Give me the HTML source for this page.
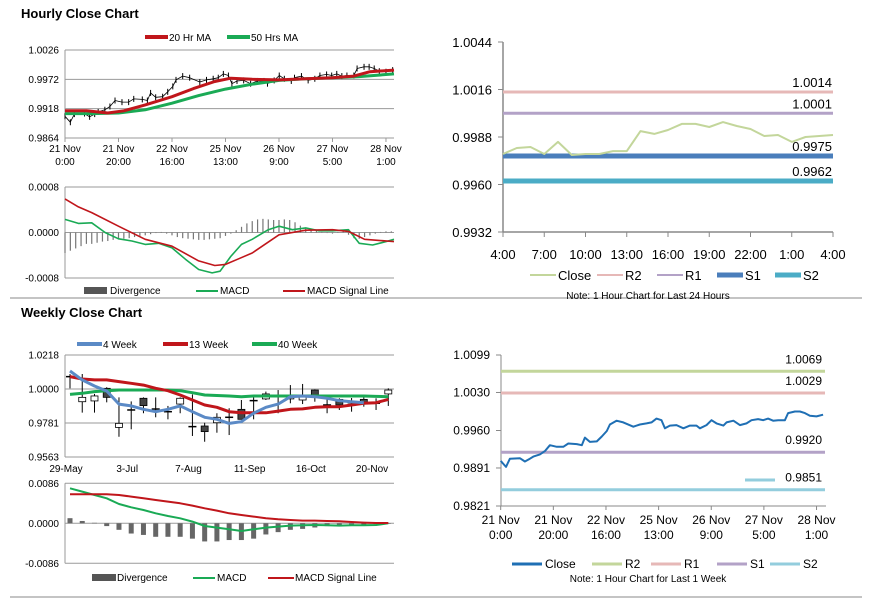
<!DOCTYPE html>
<html><head><meta charset="utf-8"><style>
body{margin:0;background:#fff;}
svg{display:block;font-family:"Liberation Sans",Arial,sans-serif;}
.t{font-size:10px;fill:#000}
.n{font-family:"Liberation Sans Narrow","Liberation Sans",sans-serif;font-size:13px;fill:#000}
</style></head><body>
<svg id="c" width="873" height="601" viewBox="0 0 873 601" xmlns="http://www.w3.org/2000/svg">
<text x="21" y="18" font-size="13" font-weight="bold">Hourly Close Chart</text>
<text x="21" y="317" font-size="13" font-weight="bold">Weekly Close Chart</text>
<line x1="10" y1="298" x2="862" y2="298" stroke="#888"/>
<line x1="10" y1="597" x2="862" y2="597" stroke="#888"/>
</svg>
<script>
// ---- Hourly data (hours since 21 Nov 0:00) ----
const closeHours=[0,2,3.5,7.3,9.2,11.1,12.4,14.9,16.8,18.7,21.3,23.8,25.7,28.9,30.8,32,33.9,36.5,38.4,40.3,41.5,44,46.6,50.4,52.9,55.4,57.3,59.2,61.1,62.4,64.3,66.8,69.4,71.9,74.4,75.7,78.2,80.1,82,84.6,85.8,88.4,90.9,93.4,95.3,97.8,99.7,101.6,103.5,105.4,108,109.2,111.8,113.7,115.6,117.5,120,122.5];
const closeValues=[0.9904,0.9893,0.9908,0.9909,0.9903,0.9908,0.9912,0.9916,0.9922,0.9933,0.9930,0.9930,0.9936,0.9935,0.9933,0.9947,0.9939,0.9940,0.9949,0.9959,0.9971,0.9978,0.9975,0.9967,0.9971,0.9973,0.9975,0.9982,0.9979,0.9964,0.9969,0.9970,0.9964,0.9969,0.9969,0.9964,0.9970,0.9979,0.9973,0.9969,0.9975,0.9978,0.9970,0.9973,0.9979,0.9981,0.9979,0.9982,0.9978,0.9979,0.9979,0.9992,0.9995,0.9995,0.9992,0.9987,0.9986,0.9989];
const ma20Hours=[0,8,16,22,30,40,48,56,62,70,80,90,100,108,114,123];
const ma20Values=[0.9914,0.9914,0.9910,0.9914,0.9925,0.9940,0.9955,0.9968,0.9974,0.9972,0.9971,0.9973,0.9975,0.9978,0.9986,0.9989];
const ma50Hours=[0,10,20,30,40,50,60,70,80,90,100,110,123];
const ma50Values=[0.9909,0.9909,0.9910,0.9916,0.9928,0.9942,0.9954,0.9963,0.9970,0.9973,0.9975,0.9977,0.9982];
const hourTickHours=[0,20,40,60,80,100,120];
const hourTickLabels=[["21 Nov","0:00"],["21 Nov","20:00"],["22 Nov","16:00"],["25 Nov","13:00"],["26 Nov","9:00"],["27 Nov","5:00"],["28 Nov","1:00"]];
const hPriceTicks=[1.0026,0.9972,0.9918,0.9864];
const hMacdTicks=[0.0008,0,-0.0008];
const hSignalHours=[0,5,10,20,30,40,50,56,60,65,70,80,90,100,106,112,123];
const hSignalValues=[0.00059,0.00045,0.00035,0.00011,-0.00012,-0.00024,-0.00050,-0.00058,-0.00056,-0.00046,-0.00036,-0.00004,0.00004,0.00005,0.00002,-0.00012,-0.00016];
const hMacdHours=[0,5,10,15,20,25,30,35,40,45,50,55,58,62,66,70,76,80,85,90,95,100,106,110,115,120,123];
const hMacdValues=[0.00023,0.00016,0.00017,0,-0.00011,-0.00015,-0.00021,-0.00019,-0.00027,-0.00047,-0.00065,-0.00071,-0.00068,-0.00042,-0.00021,-0.00012,0.00005,0.00011,0.00005,0.00008,0.00003,0.00003,0.00005,-0.00019,-0.00022,-0.00016,-0.00012];
const hDivValues=[-0.00036,-0.00032,-0.00028,-0.00024,-0.0002,-0.0002,-0.00018,-0.00016,-0.00015,-0.00013,-0.00012,-0.00011,-0.0001,-0.00008,-0.00006,-0.00005,-0.00003,-0.00001,0.00001,-0.00002,-0.00005,-0.00008,-0.0001,-0.00011,-0.00012,-0.00013,-0.00013,-0.00012,-0.00011,-0.0001,-0.00006,-0.00002,0.00004,0.0001,0.00016,0.0002,0.00023,0.00024,0.00023,0.00022,0.00022,0.00023,0.00022,0.00018,0.00012,0.00008,0.00005,0.00003,0.00001,-0.00001,-0.00002,0.00001,0.00002,-0.00004,-0.0001,-0.00011,-0.00008,-0.00005,-0.00002,0.00001,0.00002,0.00002];
// ---- 24h chart ----
const dayTickLabels=["4:00","7:00","10:00","13:00","16:00","19:00","22:00","1:00","4:00"];
const dayTicks=[1.0044,1.0016,0.9988,0.9960,0.9932];
const dayClose=[0.99780,0.99815,0.99821,0.99780,0.99851,0.99774,0.99780,0.99780,0.99797,0.99797,0.99915,0.99898,0.99921,0.99957,0.99957,0.99939,0.99968,0.99945,0.99927,0.99886,0.99892,0.99851,0.9988,0.99886,0.99892];
const dayLevels=[1.00145,1.0002,0.99768,0.99621];
const dayLevelLabels=["1.0014","1.0001","0.9975","0.9962"];
// ---- week chart levels ----
const wkTicks=[1.0099,1.0030,0.9960,0.9891,0.9821];
const wkLevels=[1.0069,1.0029,0.9920,0.9851];
const wkLevelLabels=["1.0069","1.0029","0.9920","0.9851"];
// ---- Weekly data ----
const weekLabels=["29-May","3-Jul","7-Aug","11-Sep","16-Oct","20-Nov"];
const weekLabelIdx=[0,5,10,15,20,25];
const wOpen=[1.0079,0.9918,0.9923,1.0004,0.9753,0.9865,0.9940,0.9871,0.9854,0.9903,0.9758,0.9762,0.9783,0.9818,0.9869,0.9925,0.9936,0.9950,0.9936,0.9929,0.9993,0.9897,0.9933,0.9912,0.9933,0.9908,0.9968];
const wClose=[1.0079,0.9946,0.9955,0.9946,0.9779,0.9865,0.9893,0.9871,0.9854,0.9940,0.9758,0.9726,0.9818,0.9818,0.9805,0.9925,0.9968,0.9950,0.9961,0.9950,0.9961,0.9897,0.9897,0.9912,0.9910,0.9908,0.9993];
const wHigh=[1.0096,1.0096,0.9968,1.0011,0.9946,0.9920,0.9946,0.9946,0.9891,0.9946,0.9965,0.9783,0.9844,0.9876,0.9929,0.9946,0.9983,0.9993,1.0025,1.0032,0.9997,0.9940,0.9940,0.9942,0.9950,0.9940,1.0004];
const wLow=[1.0004,0.9848,0.9848,0.9914,0.9693,0.9741,0.9844,0.9818,0.9805,0.9844,0.9698,0.9661,0.9719,0.9704,0.9805,0.9805,0.9929,0.9844,0.9908,0.9903,0.9918,0.9844,0.9865,0.9854,0.9886,0.9865,0.9891];
const w4Values=[1.0115,1.0058,1.0019,0.9987,0.9903,0.9891,0.9869,0.9854,0.9869,0.9891,0.9854,0.9818,0.9805,0.9779,0.9790,0.9844,0.9882,0.9903,0.9950,0.9955,0.9950,0.9940,0.9925,0.9918,0.9912];
const w13Values=[1.0079,1.0064,1.0058,1.0058,1.0047,1.0036,1.0025,1.0004,0.9989,0.9961,0.9929,0.9897,0.9882,0.9854,0.9847,0.9847,0.9847,0.9858,0.9869,0.9872,0.9882,0.9886,0.9886,0.9897,0.9908,0.9912,0.9933];
const w40Values=[0.9965,0.9972,0.9983,0.9989,0.9993,0.9993,0.9993,0.9993,0.9993,0.9989,0.9976,0.9961,0.9958,0.9955,0.9950,0.9955,0.9955,0.9955,0.9955,0.9955,0.9955,0.9955,0.9955,0.9955,0.9955,0.9952,0.9950];
const wPriceTicks=[1.0218,1.0000,0.9781,0.9563];
const wMacdTicks=[0.0086,0,-0.0086];
const wSignal=[0.00624,0.00624,0.00624,0.00624,0.00609,0.00573,0.00538,0.00502,0.00466,0.0043,0.0038,0.00323,0.00272,0.00215,0.00179,0.00143,0.00108,0.00086,0.00072,0.00057,0.00057,0.0005,0.00043,0.00029,0.00014,0.00007,0.00007];
const wMacd=[0.00753,0.00681,0.00609,0.00538,0.00416,0.00344,0.00287,0.00215,0.00158,0.00108,0.00036,-0.00057,-0.00093,-0.00129,-0.00165,-0.00129,-0.00093,-0.00072,-0.0005,-0.00043,-0.00036,-0.00043,-0.0005,-0.00043,-0.00043,-0.00036,0];
const wDiv=[0.0011,0.0005,0.0001,-0.0006,-0.0014,-0.0022,-0.0025,-0.0029,-0.0029,-0.0029,-0.0033,-0.0039,-0.0039,-0.0036,-0.0036,-0.0033,-0.0024,-0.0019,-0.0014,-0.0012,-0.0009,-0.0006,-0.0006,-0.0005,-0.0004,-0.0002,0];

const svg=document.getElementById('c');
const NS='http://www.w3.org/2000/svg';
function mk(tag,a,name,parent){const e=document.createElementNS(NS,tag);for(const k in a)e.setAttribute(k,a[k]);


(parent||svg).appendChild(e);return e;}
function txt(x,y,s,name,o){const e=mk('text',Object.assign({x:x,y:y},o||{}),name);e.textContent=s;return e;}
function lin(d0,d1,r0,r1){return v=>r0+(v-d0)/(d1-d0)*(r1-r0);}
function poly(xs,ys,fx,fy,color,w,name){const p=xs.map((x,i)=>fx(x).toFixed(1)+','+fy(ys[i]).toFixed(1)).join(' ');
return mk('polyline',{points:p,fill:'none',stroke:color,'stroke-width':w,'stroke-linejoin':'round'},name);}
function yaxis(ticks,fy,x0,x1,name,fmt,cls){ticks.forEach(t=>{mk('line',{x1:x0,x2:x1,y1:fy(t),y2:fy(t),stroke:'#9a9a9a'},name+'-gridline');
txt(x0-6,fy(t)+3.5,fmt(t),name+'-tick-label',{class:cls||'t','text-anchor':'end'});});
mk('line',{x1:x0,x2:x0,y1:fy(ticks[0]),y2:fy(ticks[ticks.length-1]),stroke:'#9a9a9a'},name+'-axis');}

// ===== Panel A hourly price =====
const ax=lin(0,123,65,394), ay=lin(0.9864,1.0026,138,50);
yaxis(hPriceTicks,ay,65,394,'hourly-price-y',v=>v.toFixed(4));
hourTickHours.forEach((h,i)=>{mk('line',{x1:ax(h),x2:ax(h),y1:138,y2:142,stroke:'#9a9a9a'},'hourly-x-tick');
txt(ax(h),152,hourTickLabels[i][0],'hourly-x-label',{class:'t','text-anchor':'middle'});txt(ax(h),165,hourTickLabels[i][1],'hourly-x-label',{class:'t','text-anchor':'middle'});});
closeHours.forEach((h,i)=>{mk('line',{x1:ax(h),x2:ax(h),y1:ay(closeValues[i])-3,y2:ay(closeValues[i])+3,stroke:'#000','stroke-width':1},'hourly-candle');});
poly(closeHours,closeValues,ax,ay,'#000',0.8,'hourly-close-line');
poly(ma50Hours,ma50Values,ax,ay,'#1aaa55',3,'ma50-line');
poly(ma20Hours,ma20Values,ax,ay,'#c0161b',3,'ma20-line');
mk('line',{x1:145,x2:168,y1:37,y2:37,stroke:'#c0161b','stroke-width':4},'legend-ma20-swatch');txt(169,41,'20 Hr MA','legend-ma20',{class:'t'});
mk('line',{x1:227,x2:250,y1:37,y2:37,stroke:'#1aaa55','stroke-width':4},'legend-ma50-swatch');txt(251,41,'50 Hrs MA','legend-ma50',{class:'t'});

// ===== Panel B hourly MACD =====
const by=lin(-0.0008,0.0008,278,187);
yaxis(hMacdTicks,by,65,394,'hourly-macd-y',v=>v.toFixed(4));
hDivValues.forEach((v,i)=>{const x=ax(i*2);mk('rect',{x:x-0.6,y:Math.min(by(v),by(0)),width:1.2,height:Math.abs(by(v)-by(0)),fill:'#777'},'hourly-divergence-bar');});
poly(hMacdHours,hMacdValues,ax,by,'#1aaa55',1.6,'hourly-macd-line');
poly(hSignalHours,hSignalValues,ax,by,'#c0161b',1.6,'hourly-signal-line');
mk('rect',{x:84,y:287,width:23,height:7,fill:'#555'},'legend-divergence-swatch');txt(110,294,'Divergence','legend-divergence',{class:'t'});
mk('line',{x1:196,x2:218,y1:291,y2:291,stroke:'#1aaa55','stroke-width':2},'legend-macd-swatch');txt(220,294,'MACD','legend-macd',{class:'t'});
mk('line',{x1:283,x2:305,y1:291,y2:291,stroke:'#c0161b','stroke-width':2},'legend-signal-swatch');txt(307,294,'MACD Signal Line','legend-signal',{class:'t'});

// ===== Panel C 24h =====
const cx=lin(0,24,503,833), cy=lin(0.9932,1.0044,232,42);
dayTicks.forEach(t=>{mk('line',{x1:498,x2:503,y1:cy(t),y2:cy(t),stroke:'#888'},'day-y-tick');txt(492,cy(t)+5,t.toFixed(4),'day-y-label',{class:'n','text-anchor':'end'});});
mk('line',{x1:503,x2:503,y1:42,y2:232,stroke:'#888','stroke-width':1.5},'day-y-axis');
mk('line',{x1:503,x2:833,y1:232,y2:232,stroke:'#888','stroke-width':1.5},'day-x-axis');
dayTickLabels.forEach((l,i)=>{const x=cx(i*3);mk('line',{x1:x,x2:x,y1:232,y2:237,stroke:'#888'},'day-x-tick');txt(x,259,l,'day-x-label',{class:'n','text-anchor':'middle'});});
const dayColors=['#e6b8b7','#b3a2c7','#4a7ebb','#4bacc6'], dayW=[3,3,5,5];
dayLevels.forEach((v,i)=>{mk('line',{x1:503,x2:833,y1:cy(v),y2:cy(v),stroke:dayColors[i],'stroke-width':dayW[i]},'day-level-'+['r2','r1','s1','s2'][i]);
txt(832,cy(v)-5,dayLevelLabels[i],'day-level-label',{class:'n','text-anchor':'end'});});
poly(dayClose.map((_,i)=>i),dayClose,cx,cy,'#c3d69b',2,'day-close-line');
const dl=[['Close','#c3d69b',2,530],['R2','#e6b8b7',2,597],['R1','#b3a2c7',2,657],['S1','#4a7ebb',5,717],['S2','#4bacc6',5,775]];
dl.forEach(d=>{mk('line',{x1:d[3],x2:d[3]+26,y1:275,y2:275,stroke:d[1],'stroke-width':d[2]},'day-legend-swatch');txt(d[3]+28,280,d[0],'day-legend-'+d[0].toLowerCase(),{class:'n'});});
txt(648,299,'Note: 1 Hour Chart for Last 24 Hours','day-note',{class:'t','text-anchor':'middle'});

// ===== Panel D week hourly =====
const dx=lin(0,123.6,500.7,826), dy=lin(0.9821,1.0099,506,355);
wkTicks.forEach(t=>{mk('line',{x1:496,x2:501,y1:dy(t),y2:dy(t),stroke:'#888'},'week-y-tick');txt(490,dy(t)+4,t.toFixed(4),'week-y-label',{class:'t','font-size':'12','text-anchor':'end',style:'font-size:12px'});});
mk('line',{x1:501,x2:501,y1:355,y2:506,stroke:'#888'},'week-y-axis');
mk('line',{x1:501,x2:826,y1:506,y2:506,stroke:'#888'},'week-x-axis');
hourTickHours.forEach((h,i)=>{const x=dx(h);mk('line',{x1:x,x2:x,y1:506,y2:510,stroke:'#888'},'week-x-tick');
txt(x,524,hourTickLabels[i][0],'week-x-label',{class:'t',style:'font-size:12px','text-anchor':'middle'});txt(x,539,hourTickLabels[i][1],'week-x-label',{class:'t',style:'font-size:12px','text-anchor':'middle'});});
const wkColors=['#c3d69b','#e6b8b7','#b3a2c7','#93cddd'];
wkLevels.forEach((v,i)=>{mk('line',{x1:501,x2:825,y1:dy(v),y2:dy(v),stroke:wkColors[i],'stroke-width':3},'week-level-'+['r2','r1','s1','s2'][i]);
txt(822,dy(v)-8,wkLevelLabels[i],'week-level-label',{class:'t',style:'font-size:12px','text-anchor':'end'});});
mk('line',{x1:745,x2:775,y1:480,y2:480,stroke:'#93cddd','stroke-width':3},'week-s2-label-marker');
poly(closeHours,closeValues,dx,dy,'#1f6fb4',2,'week-close-line');
const wl=[['Close','#1f6fb4',512],['R2','#c3d69b',592],['R1','#e6b8b7',651],['S1','#b3a2c7',717],['S2','#93cddd',770]];
wl.forEach(d=>{mk('line',{x1:d[2],x2:d[2]+30,y1:564,y2:564,stroke:d[1],'stroke-width':3},'week-legend-swatch');txt(d[2]+33,568,d[0],'week-legend-'+d[0].toLowerCase(),{class:'t',style:'font-size:12px'});});
txt(648,582,'Note: 1 Hour Chart for Last 1 Week','week-note',{class:'t','text-anchor':'middle'});

// ===== Panel E weekly price =====
const ex=lin(0,26,70,388.3), ey=lin(0.9563,1.0218,457,355);
yaxis(wPriceTicks,ey,65,394,'weekly-price-y',v=>v.toFixed(4));
weekLabelIdx.forEach((k,i)=>txt(ex(k)-4,472,weekLabels[i],'weekly-x-label',{class:'t','text-anchor':'middle'}));
wOpen.forEach((o,i)=>{const x=ex(i),c=wClose[i];
mk('line',{x1:x,x2:x,y1:ey(wHigh[i]),y2:ey(wLow[i]),stroke:'#000'},'weekly-candle-wick');
const t=ey(Math.max(o,c)),b=ey(Math.min(o,c));
if(b-t<1.2){mk('line',{x1:x-4,x2:x+4,y1:t,y2:t,stroke:'#000','stroke-width':1.5},'weekly-candle-doji');}
else mk('rect',{x:x-3.5,y:t,width:7,height:b-t,fill:c>o?'#fff':'#444',stroke:'#000','stroke-width':0.8},'weekly-candle-body');});
poly(w40Values.map((_,i)=>i),w40Values,ex,ey,'#1aaa55',3,'ma40-week-line');
poly(w13Values.map((_,i)=>i),w13Values,ex,ey,'#c0161b',3,'ma13-week-line');
poly(w4Values.map((_,i)=>i),w4Values,ex,ey,'#5b8ac6',3,'ma4-week-line');
[['4 Week','#5b8ac6',77],['13 Week','#c0161b',163],['40 Week','#1aaa55',252]].forEach(d=>{mk('line',{x1:d[2],x2:d[2]+25,y1:344,y2:344,stroke:d[1],'stroke-width':4},'weekly-legend-swatch');txt(d[2]+26,348,d[0],'weekly-legend-entry',{class:'t'});});

// ===== Panel F weekly MACD =====
const fy=lin(-0.0086,0.0086,563.3,483.3);
yaxis(wMacdTicks,fy,65,394,'weekly-macd-y',v=>v.toFixed(4));
wDiv.forEach((v,i)=>{const x=ex(i);mk('rect',{x:x-2.5,y:Math.min(fy(v),fy(0)),width:5,height:Math.max(0.5,Math.abs(fy(v)-fy(0))),fill:'#666'},'weekly-divergence-bar');});
poly(wMacd.map((_,i)=>i),wMacd,ex,fy,'#1aaa55',2,'weekly-macd-line');
poly(wSignal.map((_,i)=>i),wSignal,ex,fy,'#c0161b',2,'weekly-signal-line');
mk('rect',{x:92,y:574,width:24,height:7,fill:'#555'},'weekly-legend-divergence-swatch');txt(117,581,'Divergence','weekly-legend-divergence',{class:'t'});
mk('line',{x1:193,x2:215,y1:578,y2:578,stroke:'#1aaa55','stroke-width':2},'weekly-legend-macd-swatch');txt(217,581,'MACD','weekly-legend-macd',{class:'t'});
mk('line',{x1:268,x2:294,y1:578,y2:578,stroke:'#c0161b','stroke-width':2},'weekly-legend-signal-swatch');txt(295,581,'MACD Signal Line','weekly-legend-signal',{class:'t'});
</script>
</body></html>
